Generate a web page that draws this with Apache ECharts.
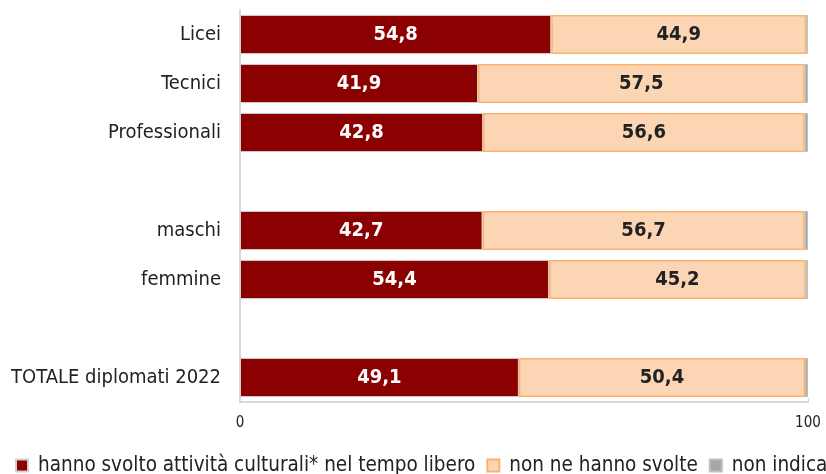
<!DOCTYPE html>
<html>
<head>
<meta charset="utf-8">
<style>
  html, body { margin: 0; padding: 0; background: #fff; }
  #chart { width: 826px; height: 474px; }
</style>
<script src="https://cdn.jsdelivr.net/npm/echarts@6/dist/echarts.min.js"></script>
</head>
<body>
<div id="chart"></div>
<script>
// categories top to bottom, '' = empty spacer rows
const categories = ['Licei', 'Tecnici', 'Professionali', '', 'maschi', 'femmine', '', 'TOTALE diplomati 2022'];
const svolte = [54.8, 41.9, 42.8, '-', 42.7, 54.4, '-', 49.1];
const nonSvolte = [44.9, 57.5, 56.6, '-', 56.7, 45.2, '-', 50.4];
const nonIndicato = [0.3, 0.6, 0.6, '-', 0.6, 0.4, '-', 0.5];
const seriesNames = ['hanno svolto attività culturali* nel tempo libero', 'non ne hanno svolte', 'non indicato'];

const font = '"DejaVu Sans Condensed", "DejaVu Sans", sans-serif';
const fmt = p => p.value.toFixed(1).replace('.', ',');

const chart = echarts.init(document.getElementById('chart'));
chart.setOption({
    animation: false,
    textStyle: { fontFamily: font },
    grid: { left: 240, right: 18, top: 10, bottom: 72, containLabel: false },
    legend: {
        left: 10,
        bottom: -7,
        width: 1400,
        itemWidth: 12,
        itemHeight: 12,
        itemGap: 11,
        icon: 'rect',
        textStyle: { fontSize: 20.5, color: '#222', fontFamily: font, padding: [0, 0, 0, 5] },
        data: seriesNames
    },
    xAxis: {
        type: 'value',
        min: 0,
        max: 100,
        interval: 100,
        splitLine: { show: false },
        axisLine: { show: true, lineStyle: { color: '#d9d9d9', width: 2 } },
        axisTick: { show: true, inside: true, length: 4, lineStyle: { color: '#d9d9d9' } },
        axisLabel: { fontSize: 15, color: '#222', margin: 14, fontFamily: font }
    },
    yAxis: {
        type: 'category',
        inverse: true,
        data: categories,
        axisLine: { show: true, lineStyle: { color: '#d9d9d9', width: 2 } },
        axisTick: { show: false },
        axisLabel: { fontSize: 20, color: '#222', margin: 19, fontFamily: font }
    },
    series: [
        {
            name: seriesNames[0],
            type: 'bar',
            stack: 'tot',
            barWidth: '80%',
            data: svolte,
            itemStyle: { color: '#8B0000', borderColor: '#d0d0d0', borderWidth: 1 },
            label: { show: true, position: 'inside', color: '#fff', fontSize: 20, fontWeight: 'bold', formatter: fmt, fontFamily: font }
        },
        {
            name: seriesNames[1],
            type: 'bar',
            stack: 'tot',
            data: nonSvolte,
            itemStyle: { color: '#FCD5B5', borderColor: '#F9B36E', borderWidth: 1.5 },
            label: { show: true, position: 'inside', color: '#222', fontSize: 20, fontWeight: 'bold', formatter: fmt, fontFamily: font }
        },
        {
            name: seriesNames[2],
            type: 'bar',
            stack: 'tot',
            data: nonIndicato,
            itemStyle: { color: '#A6A6A6', borderColor: '#BFBFBF', borderWidth: 1 },
            label: { show: false }
        }
    ]
});
</script>
</body>
</html>
